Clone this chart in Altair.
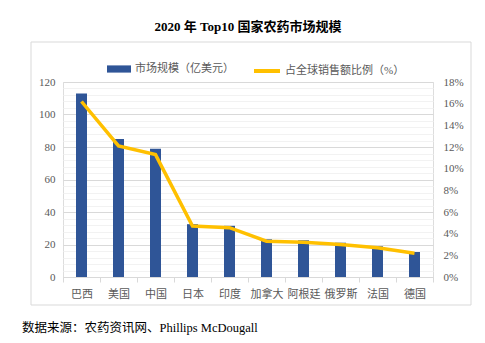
import altair as alt
import pandas as pd

countries = ["巴西", "美国", "中国", "日本", "印度", "加拿大", "阿根廷", "俄罗斯", "法国", "德国"]
market = [113, 85, 79, 32.5, 31.5, 23.2, 22.6, 21.1, 18.9, 15.4]
share = [0.162, 0.121, 0.113, 0.047, 0.0455, 0.033, 0.032, 0.030, 0.027, 0.022]

bar_name = "市场规模（亿美元）"
line_name = "占全球销售额比例（%）"
title_text = "2020 年 Top10 国家农药市场规模"
source_text = "数据来源：农药资讯网、Phillips McDougall"

FONT = "Liberation Serif, Noto Sans CJK SC"
GRAY = "#595959"

df = pd.DataFrame({"country": countries, "market": market, "share": share})
base = alt.Chart(df)

xenc = alt.X("country:N", sort=countries, title=None,
             scale=alt.Scale(paddingInner=0, paddingOuter=0),
             axis=alt.Axis(labelAngle=0, tickBand="extent", tickColor="#d9d9d9",
                           tickSize=5, domainColor="#d9d9d9", labelPadding=6,
                           labelFont=FONT, labelFontSize=11, labelColor=GRAY, grid=False))

bars = base.transform_calculate(s=f"'{bar_name}'").mark_bar(size=11).encode(
    x=xenc,
    y=alt.Y("market:Q", title=None, scale=alt.Scale(domain=[0, 120], nice=False),
            axis=alt.Axis(values=list(range(0, 121, 4)), ticks=False, domain=False,
                          labelExpr="datum.value % 20 === 0 ? datum.label : ''",
                          labelPadding=8, labelFont=FONT, labelFontSize=11, labelColor=GRAY,
                          gridColor={"condition": {"test": "datum.value % 20 === 0", "value": "#d9d9d9"},
                                     "value": "#f2f2f2"})),
    color=alt.Color("s:N", scale=alt.Scale(domain=[bar_name], range=["#2F5597"]),
                    legend=alt.Legend(title=None, orient="none", legendX=43, legendY=-26,
                                      symbolType="M-1,-0.3H1V0.3H-1Z", symbolSize=576,
                                      labelFont=FONT, labelFontSize=11, labelColor=GRAY,
                                      labelOffset=3)),
)

line = base.transform_calculate(s=f"'{line_name}'").mark_line(strokeWidth=3.5).encode(
    x=alt.X("country:N", sort=countries),
    y=alt.Y("share:Q", title=None, scale=alt.Scale(domain=[0, 0.18], nice=False),
            axis=alt.Axis(orient="right", values=[i / 100 for i in range(0, 19, 2)], format=".0%",
                          ticks=False, domain=False, grid=False, labelPadding=10,
                          labelFont=FONT, labelFontSize=11, labelColor=GRAY)),
    stroke=alt.Stroke("s:N", scale=alt.Scale(domain=[line_name], range=["#FFC000"]),
                      legend=alt.Legend(title=None, orient="none", legendX=189, legendY=-26,
                                        symbolType="stroke", symbolSize=676, symbolStrokeWidth=4,
                                        labelFont=FONT, labelFontSize=11, labelColor=GRAY,
                                        labelOffset=3)),
)

box = alt.Chart(alt.Data(values=[{}])).mark_rect(fill=None, stroke="#d9d9d9", strokeWidth=1).encode(
    x=alt.value(-32), x2=alt.value(408), y=alt.value(-40), y2=alt.value(223))

src = alt.Chart(alt.Data(values=[{}])).mark_text(
    text=source_text, align="left", baseline="middle", font=FONT, fontSize=12.5, color="black"
).encode(x=alt.value(-41), y=alt.value(246))

chart = alt.layer(box, bars, line, src).resolve_scale(y="independent").properties(
    width=370, height=195,
    title=alt.TitleParams(title_text, font=FONT, fontSize=13, fontWeight="bold", color="black",
                          anchor="middle", offset=8),
    autosize=alt.AutoSizeParams(type="none"),
    padding={"left": 63, "top": 82, "right": 52, "bottom": 66},
).configure_view(stroke=None).configure(background="white")

chart.save("out.html", embed_options={"renderer": "svg", "actions": False})
